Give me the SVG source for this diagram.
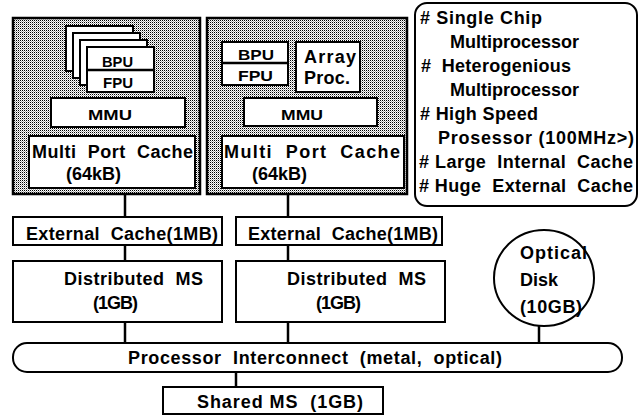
<svg xmlns="http://www.w3.org/2000/svg" width="642" height="419" viewBox="0 0 642 419">
<defs>
<pattern id="stip" width="2" height="2" patternUnits="userSpaceOnUse">
<rect width="2" height="2" fill="#fff"/>
<rect width="1" height="1" fill="#000"/>
<rect x="1" y="1" width="1" height="1" fill="#aaa"/>
</pattern>
<style>
.chip{fill:url(#stip);stroke:#000;stroke-width:2.5}
.box{fill:#fff;stroke:#000;stroke-width:2}
.t{font-family:"Liberation Sans",Arial,Helvetica,sans-serif;font-weight:bold;font-size:18px;fill:#000;white-space:pre}
.s{font-size:14px}
.ln{stroke:#000;stroke-width:2.5;fill:none}
</style>
</defs>
<rect width="642" height="419" fill="#fff"/>

<g id="chip1">
<rect class="chip" x="13" y="18" width="187" height="176"/>
<rect class="box" x="66" y="26" width="67" height="45"/>
<rect class="box" x="73" y="33" width="67" height="45"/>
<rect class="box" x="80" y="40" width="67" height="45"/>
<g id="bpu1">
<rect class="box" x="87" y="47" width="67" height="45"/>
<line class="ln" x1="87" y1="70" x2="154" y2="70" stroke-width="2"/>
<text class="t s" x="102" y="67" textLength="31" lengthAdjust="spacingAndGlyphs">BPU</text>
<text class="t s" x="103" y="88" textLength="30" lengthAdjust="spacingAndGlyphs">FPU</text>
</g>
<g id="mmu1">
<rect class="box" x="51" y="98" width="134" height="29"/>
<text class="t s" x="88" y="120" textLength="44" lengthAdjust="spacingAndGlyphs">MMU</text>
</g>
<g id="cache1">
<rect class="box" x="29" y="136" width="166" height="52"/>
<text class="t" x="32" y="158" textLength="161">Multi  Port  Cache</text>
<text class="t" x="66" y="180">(64kB)</text>
</g>
</g>

<g id="chip2">
<rect class="chip" x="207" y="18" width="200" height="176"/>
<g id="bpu2">
<rect class="box" x="222" y="42" width="66" height="43"/>
<line class="ln" x1="222" y1="63" x2="288" y2="63" stroke-width="2"/>
<text class="t s" x="238" y="60" textLength="36" lengthAdjust="spacingAndGlyphs">BPU</text>
<text class="t s" x="238" y="81" textLength="35" lengthAdjust="spacingAndGlyphs">FPU</text>
</g>
<g id="array">
<rect class="box" x="296" y="42" width="64" height="50"/>
<text class="t" x="304" y="63" textLength="52">Array</text>
<text class="t" x="304" y="84" textLength="46">Proc.</text>
</g>
<g id="mmu2">
<rect class="box" x="244" y="98" width="133" height="28"/>
<text class="t s" x="281" y="120" textLength="42" lengthAdjust="spacingAndGlyphs">MMU</text>
</g>
<g id="cache2">
<rect class="box" x="222" y="136" width="182" height="52"/>
<text class="t" x="224" y="158" textLength="176">Multi  Port  Cache</text>
<text class="t" x="252" y="180">(64kB)</text>
</g>
</g>

<g id="legend">
<rect x="415" y="3" width="222" height="203" rx="12" fill="#fff" stroke="#000" stroke-width="2"/>
<text class="t" x="420" y="24" textLength="122"># Single Chip</text>
<text class="t" x="450" y="48">Multiprocessor</text>
<text class="t" x="421" y="72" textLength="150">#  Heterogenious</text>
<text class="t" x="450" y="96">Multiprocessor</text>
<text class="t" x="420" y="120" textLength="118"># High Speed</text>
<text class="t" x="438" y="144" textLength="196">Prosessor (100MHz&gt;)</text>
<text class="t" x="419" y="168" textLength="214"># Large  Internal  Cache</text>
<text class="t" x="419" y="192" textLength="214"># Huge  External  Cache</text>
</g>

<g id="ext1">
<rect class="box" x="13" y="217" width="209" height="28"/>
<text class="t" x="26" y="240" textLength="192">External  Cache(1MB)</text>
</g>
<g id="ext2">
<rect class="box" x="236" y="217" width="206" height="28"/>
<text class="t" x="248" y="240" textLength="190">External  Cache(1MB)</text>
</g>
<g id="dist1">
<rect class="box" x="13" y="261" width="209" height="61"/>
<text class="t" x="64" y="285" textLength="139">Distributed  MS</text>
<text class="t" x="93" y="309" textLength="45">(1GB)</text>
</g>
<g id="dist2">
<rect class="box" x="236" y="261" width="209" height="61"/>
<text class="t" x="287" y="285" textLength="139">Distributed  MS</text>
<text class="t" x="316" y="309" textLength="45">(1GB)</text>
</g>
<g id="disk">
<ellipse cx="544" cy="278" rx="50" ry="48" fill="#fff" stroke="#000" stroke-width="2"/>
<text class="t" x="520" y="259" textLength="67">Optical</text>
<text class="t" x="520" y="286">Disk</text>
<text class="t" x="520" y="313" textLength="62">(10GB)</text>
</g>
<g id="bus">
<rect x="13" y="343" width="609" height="29" rx="14" fill="#fff" stroke="#000" stroke-width="2"/>
<text class="t" x="128" y="364" textLength="374">Processor  Interconnect  (metal,  optical)</text>
</g>
<g id="shared">
<rect class="box" x="163" y="387" width="220" height="27"/>
<text class="t" x="197" y="408" textLength="166">Shared MS  (1GB)</text>
</g>

<g id="connectors">
<line class="ln" x1="125" y1="194" x2="125" y2="217"/>
<line class="ln" x1="125" y1="245" x2="125" y2="261"/>
<line class="ln" x1="125" y1="322" x2="125" y2="343"/>
<line class="ln" x1="288" y1="194" x2="288" y2="217"/>
<line class="ln" x1="288" y1="245" x2="288" y2="261"/>
<line class="ln" x1="288" y1="322" x2="288" y2="343"/>
<line class="ln" x1="539" y1="326" x2="539" y2="343"/>
<line class="ln" x1="236" y1="372" x2="236" y2="387"/>
</g>
</svg>
